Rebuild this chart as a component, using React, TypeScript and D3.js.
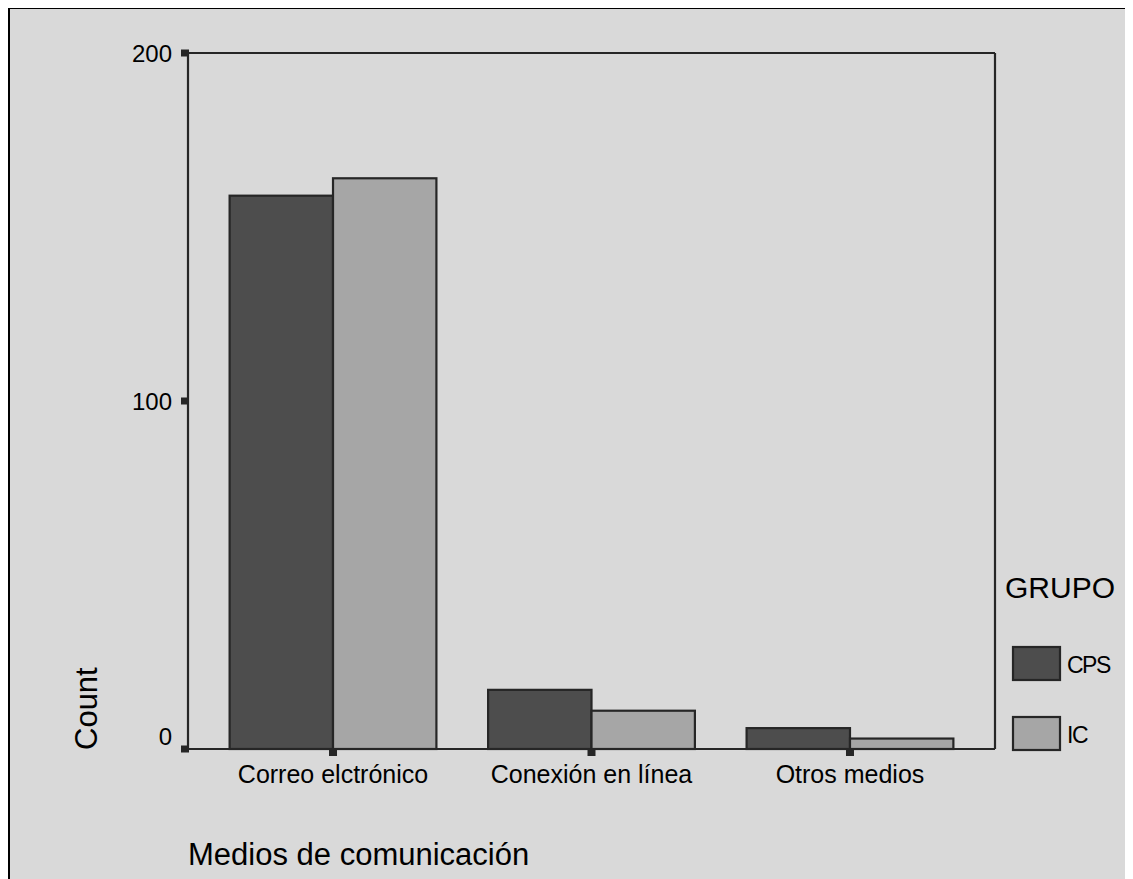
import React from "react";
import * as d3 from "d3";

const categories = ["Correo elctrónico", "Conexión en línea", "Otros medios"];
const groups = ["CPS", "IC"];
const cpsValues = [159, 17, 6];
const icValues = [164, 11, 3];
const yTicks = [0, 100, 200];
const groupColors = ["#4d4d4d", "#a6a6a6"];

const W = 1133;
const H = 879;
const plotLeft = 188;
const plotRight = 995;
const plotTop = 53;
const plotBottom = 749;
const FONT = "Arial, 'Liberation Sans', sans-serif";
const AXIS = "#262626";

export default function App() {
  const x = d3
    .scaleBand<string>()
    .domain(categories)
    .range([plotLeft, plotRight])
    .paddingInner(0.2)
    .paddingOuter(0.161);
  const xg = d3.scaleBand<string>().domain(groups).range([0, x.bandwidth()]).padding(0);
  const y = d3.scaleLinear().domain([0, 200]).range([plotBottom, plotTop]);
  const series = [cpsValues, icValues];

  return (
    <>
      <style>{`body{overflow:hidden}`}</style>
      <svg width={W - 8} height={H - 8} style={{ display: "block" }}>
        <g transform="translate(-8,-8)" fontFamily={FONT}>
          <rect x={0} y={0} width={W + 20} height={H + 20} fill="#d9d9d9" />
          <line x1={9} y1={8} x2={W + 10} y2={8} stroke="#000" strokeWidth={2} />
          <line x1={9} y1={8} x2={9} y2={H + 10} stroke="#000" strokeWidth={2} />

          {/* bars */}
          {categories.map((c, ci) =>
            groups.map((g, gi) => {
              const v = series[gi][ci];
              const bx = (x(c) ?? 0) + (xg(g) ?? 0);
              return (
                <rect
                  key={c + g}
                  x={bx}
                  y={y(v)}
                  width={xg.bandwidth()}
                  height={y(0) - y(v)}
                  fill={groupColors[gi]}
                  stroke={AXIS}
                  strokeWidth={2.2}
                />
              );
            })
          )}

          {/* frame */}
          <line x1={plotLeft} y1={plotTop} x2={plotRight} y2={plotTop} stroke={AXIS} strokeWidth={2.2} />
          <line x1={plotRight} y1={plotTop} x2={plotRight} y2={plotBottom} stroke={AXIS} strokeWidth={2.2} />
          <line x1={plotLeft} y1={plotTop} x2={plotLeft} y2={plotBottom} stroke={AXIS} strokeWidth={2.2} />
          <line x1={181} y1={plotBottom} x2={plotRight} y2={plotBottom} stroke={AXIS} strokeWidth={2.2} />

          {/* y ticks */}
          {yTicks.map((t) => (
            <g key={t}>
              <rect x={181} y={y(t) - 3.5} width={8} height={7} fill={AXIS} />
              <text
                x={172}
                y={y(t) - (t === 0 ? 13 : 0)}
                dy="0.36em"
                textAnchor="end"
                fontSize={24}
                fill="#000"
              >
                {t}
              </text>
            </g>
          ))}

          {/* x ticks */}
          {categories.map((c) => {
            const cx = (x(c) ?? 0) + x.bandwidth() / 2;
            return (
              <g key={c}>
                <rect x={cx - 4} y={plotBottom} width={8} height={7} fill={AXIS} />
                <text x={cx} y={783} textAnchor="middle" fontSize={25} fill="#000">
                  {c}
                </text>
              </g>
            );
          })}

          {/* axis titles */}
          <text
            transform={`translate(97,750) rotate(-90)`}
            textAnchor="start"
            fontSize={31}
            fill="#000"
          >
            Count
          </text>
          <text x={188} y={865} fontSize={31} fill="#000">
            Medios de comunicación
          </text>

          {/* legend */}
          <text x={1005} y={598} fontSize={30} fill="#000">
            GRUPO
          </text>
          {groups.map((g, gi) => (
            <g key={g} transform={`translate(1013,${647 + gi * 70})`}>
              <rect x={0} y={0} width={47} height={33} fill={groupColors[gi]} stroke={AXIS} strokeWidth={2.2} />
              <text x={54} y={26} fontSize={23} letterSpacing={-1.5} fill="#000">
                {g}
              </text>
            </g>
          ))}
        </g>
      </svg>
    </>
  );
}
